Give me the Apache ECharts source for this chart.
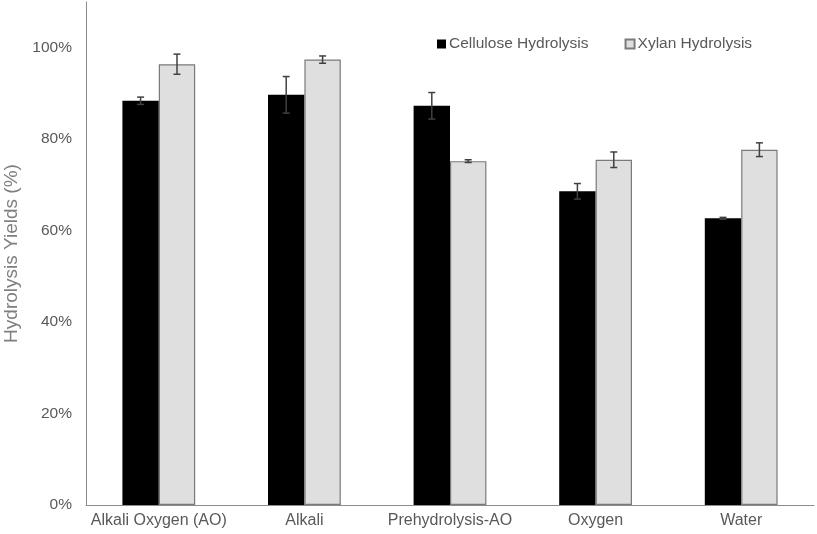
<!DOCTYPE html>
<html><head><meta charset="utf-8">
<script src="https://cdn.jsdelivr.net/npm/echarts@6/dist/echarts.min.js"></script>
<style>html,body{margin:0;padding:0;background:#fff}#c{width:817px;height:534px}</style>
</head><body><div id="c"></div>
<script>
const categories = ['Alkali Oxygen (AO)', 'Alkali', 'Prehydrolysis-AO', 'Oxygen', 'Water'];
const celluloseValues = [0.884, 0.897, 0.873, 0.686, 0.627];
const celluloseErrors = [0.008, 0.040, 0.029, 0.017, 0.002];
const xylanValues = [0.964, 0.974, 0.752, 0.755, 0.777];
const xylanErrors = [0.022, 0.008, 0.003, 0.017, 0.015];
const yTicks = [0, 0.2, 0.4, 0.6, 0.8, 1.0];

const chart = echarts.init(document.getElementById('c'));
const txt = '#595959';
function errData(vals, errs) {
  return vals.map((v, i) => [i, v - errs[i], v + errs[i]]);
}
function errSeries(name, vals, errs, side) {
  return {
    type: 'custom', name: name + ' err', silent: true, z: 10,
    data: errData(vals, errs),
    renderItem: function (params, api) {
      const i = api.value(0);
      const lo = api.coord([i, api.value(1)]);
      const hi = api.coord([i, api.value(2)]);
      const bw = api.size([1, 0])[0] * 0.25;
      const x = lo[0] + side * bw / 2;
      const cap = 3.5;
      const style = { stroke: '#404040', lineWidth: 1.5 };
      return { type: 'group', children: [
        { type: 'line', shape: { x1: x, y1: lo[1], x2: x, y2: hi[1] }, style: style },
        { type: 'line', shape: { x1: x - cap, y1: lo[1], x2: x + cap, y2: lo[1] }, style: style },
        { type: 'line', shape: { x1: x - cap, y1: hi[1], x2: x + cap, y2: hi[1] }, style: style }
      ]};
    }
  };
}
chart.setOption({
  animation: false,
  textStyle: { fontFamily: 'Liberation Sans, Arial, sans-serif' },
  grid: { left: 86, right: 3, top: 2, bottom: 29, containLabel: false, outerBoundsMode: 'none' },
  legend: {
    data: ['Cellulose Hydrolysis', 'Xylan Hydrolysis'],
    left: 432, top: 31, icon: 'rect', itemWidth: 9, itemHeight: 9, itemGap: 36,
    textStyle: { color: txt, fontSize: 15.5, padding: [0, 0, 0, -2] }
  },
  xAxis: {
    type: 'category', data: categories,
    axisLine: { lineStyle: { color: '#8c8c8c', width: 1 } },
    axisTick: { show: false },
    axisLabel: { color: txt, fontSize: 16, margin: 8, interval: 0 }
  },
  yAxis: {
    type: 'value', min: 0, max: 1.1, interval: 0.2,
    name: 'Hydrolysis Yields (%)', nameLocation: 'middle', nameGap: 57,
    nameTextStyle: { color: '#7f7f7f', fontSize: 19 },
    axisLine: { show: true, lineStyle: { color: '#8c8c8c', width: 1 } },
    axisTick: { show: false },
    splitLine: { show: false },
    axisLabel: { color: txt, fontSize: 15.5, margin: 14, showMaxLabel: false,
      formatter: v => yTicks.some(t => Math.abs(t - v) < 1e-9) ? Math.round(v * 100) + '%' : '' }
  },
  series: [
    { name: 'Cellulose Hydrolysis', type: 'bar', data: celluloseValues, barGap: '0%', barCategoryGap: '50%',
      itemStyle: { color: '#000000' } },
    { name: 'Xylan Hydrolysis', type: 'bar', data: xylanValues,
      itemStyle: { color: '#dfdfdf', borderColor: '#7a7a7a', borderWidth: 1.2 } },
    errSeries('Cellulose Hydrolysis', celluloseValues, celluloseErrors, -1),
    errSeries('Xylan Hydrolysis', xylanValues, xylanErrors, 1)
  ]
});
</script></body></html>
